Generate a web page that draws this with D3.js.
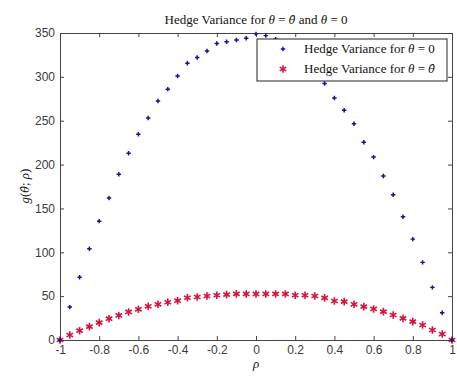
<!DOCTYPE html>
<meta charset="utf-8">
<style>
body { margin: 0; background: #fff; }
.tick text { font: 12px "Liberation Sans", Arial, sans-serif; fill: #3a3a3a; }
.serif { font-family: "Liberation Serif", "Times New Roman", serif; font-size: 13px; fill: #111; }
.hat { font-family: "DejaVu Serif", serif; font-size: 11px; font-style: italic; }
</style>
<body>
<script src="https://cdn.jsdelivr.net/npm/d3@7"></script>
<script>

// rho values (x axis)
var rho = [-1, -0.95, -0.9, -0.85, -0.8, -0.75, -0.7, -0.65, -0.6, -0.55, -0.5,
  -0.45, -0.4, -0.35, -0.3, -0.25, -0.2, -0.15, -0.1, -0.05, 0,
  0.05, 0.1, 0.15, 0.2, 0.25, 0.3, 0.35, 0.4, 0.45, 0.5,
  0.55, 0.6, 0.65, 0.7, 0.75, 0.8, 0.85, 0.9, 0.95, 1];

// Hedge variance for theta = 0
var varZero = [0, 37.5, 71.5, 104, 135.5, 162, 189, 213, 234.5, 253, 272.5,
  286, 301, 315.5, 322, 329.5, 338, 340, 342, 344, 349,
  347, 343, 337, 329, 318, 306, 292.5, 276, 262, 246.5,
  225.5, 208.5, 187, 165.5, 140.5, 115, 88.5, 60, 31, 0];

// Hedge variance for theta = theta hat
var varHat = [0, 5.7, 10.6, 15.2, 19.8, 24.3, 28, 32, 35, 38.4, 40.7,
  43, 44.8, 48.2, 49, 50.2, 51, 51.7, 52.6, 52.5, 52.5,
  52.5, 52.5, 52.5, 51, 51, 50.2, 48, 44.5, 43.7, 40.7,
  38, 35.4, 32.3, 28.5, 24.7, 20.9, 17.1, 11.4, 6.8, 0];

var xTicks = [-1, -0.8, -0.6, -0.4, -0.2, 0, 0.2, 0.4, 0.6, 0.8, 1];
var yTicks = [0, 50, 100, 150, 200, 250, 300, 350];

var W = 457, H = 378,
    margin = {top: 33, right: 5, bottom: 38, left: 60},
    w = W - margin.left - margin.right,
    h = H - margin.top - margin.bottom;

var svg = d3.select("body").append("svg")
    .attr("width", W)
    .attr("height", H);

var g = svg.append("g")
    .attr("transform", "translate(" + margin.left + "," + margin.top + ")");

var x = d3.scaleLinear().domain([-1, 1]).range([0, w]);
var y = d3.scaleLinear().domain([0, 350]).range([h, 0]);

var fmt = function(d) { return d3.format("")(d).replace("−", "-"); };

// axes, matlab style (ticks inside, box all round)
g.append("g").attr("transform", "translate(0," + h + ")")
    .call(d3.axisBottom(x).tickValues(xTicks).tickSize(-4).tickPadding(5).tickFormat(fmt));
g.append("g")
    .call(d3.axisTop(x).tickValues(xTicks).tickSize(-4).tickFormat(""));
g.append("g")
    .call(d3.axisLeft(y).tickValues(yTicks).tickSize(-4).tickPadding(5));
g.append("g").attr("transform", "translate(" + w + ",0)")
    .call(d3.axisRight(y).tickValues(yTicks).tickSize(-4).tickFormat(""));
g.selectAll(".domain, .tick line").attr("stroke", "#444");

// red asterisks
var star = d3.symbol().type(d3.symbolAsterisk).size(40);
g.append("g").selectAll("path")
    .data(rho)
  .enter().append("path")
    .attr("transform", function(d, i) { return "translate(" + x(d) + "," + y(varHat[i]) + ")"; })
    .attr("d", star)
    .attr("fill", "none")
    .attr("stroke", "#d4143c")
    .attr("stroke-width", 1.6);

// blue dots
var dot = d3.symbol().type(d3.symbolCross).size(11);
g.append("g").selectAll("path")
    .data(rho)
  .enter().append("path")
    .attr("transform", function(d, i) { return "translate(" + x(d) + "," + y(varZero[i]) + ")"; })
    .attr("d", dot)
    .attr("fill", "#12129a");

// italic theta hat (combining circumflex)
function thetaHat(t) {
  t.append("tspan").attr("class", "hat").text("θ\u0302");
}

// title
var title = svg.append("text").attr("class", "serif")
    .attr("x", margin.left + w / 2).attr("y", 24)
    .attr("text-anchor", "middle");
title.append("tspan").text("Hedge Variance for ");
title.append("tspan").attr("font-style", "italic").text("θ");
title.append("tspan").text(" = ");
thetaHat(title);
title.append("tspan").text(" and ");
title.append("tspan").attr("font-style", "italic").text("θ");
title.append("tspan").text(" = 0");

// axis labels
svg.append("text").attr("class", "serif")
    .attr("x", margin.left + w / 2).attr("y", 368)
    .attr("text-anchor", "middle").attr("font-style", "italic")
    .attr("font-size", "12px")
    .text("ρ");

var yl = svg.append("text").attr("class", "serif")
    .attr("transform", "translate(29,186) rotate(-90)")
    .attr("text-anchor", "middle");
yl.append("tspan").attr("font-style", "italic").text("g");
yl.append("tspan").text("(");
thetaHat(yl);
yl.append("tspan").text("; ");
yl.append("tspan").attr("font-style", "italic").text("ρ");
yl.append("tspan").text(")");

// legend
var lg = svg.append("g").attr("transform", "translate(257,39)");
lg.append("rect")
    .attr("width", 190).attr("height", 42)
    .attr("fill", "#fff").attr("stroke", "#222").attr("stroke-width", 1);

var legendRows = [
  {sym: dot, fill: "#12129a", stroke: "none"},
  {sym: star, fill: "none", stroke: "#d4143c"}
];
legendRows.forEach(function(r, i) {
  var cy = 10 + i * 20;
  lg.append("path")
      .attr("transform", "translate(26," + cy + ")")
      .attr("d", r.sym)
      .attr("fill", r.fill).attr("stroke", r.stroke).attr("stroke-width", 1.6);
  var t = lg.append("text").attr("class", "serif")
      .attr("x", 47).attr("y", cy + 4);
  t.append("tspan").text("Hedge Variance for ");
  t.append("tspan").attr("font-style", "italic").text("θ");
  t.append("tspan").text(" = ");
  if (i === 0) t.append("tspan").text("0");
  else thetaHat(t);
});
</script>
